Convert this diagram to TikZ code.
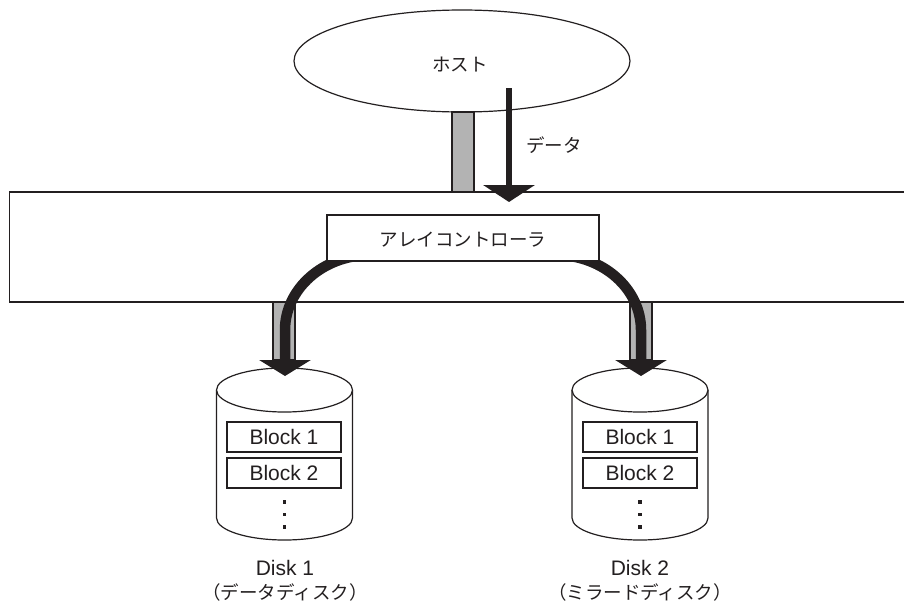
\documentclass[tikz,border=0pt]{standalone}
\usepackage{fontspec}
\setmainfont{Liberation Sans}
\newfontfamily\jp{Noto Sans CJK JP}
\usetikzlibrary{arrows.meta,shapes.geometric}
\definecolor{ink}{HTML}{231F20}
\definecolor{bargray}{HTML}{B3B3B3}
\tikzset{
  outline/.style={draw=ink, line width=1.2pt},
  bar/.style={draw=ink, line width=1.1pt, fill=bargray},
  blockbox/.style={draw=ink, line width=1.1pt, fill=white, minimum width=114pt, minimum height=30pt, inner sep=0pt, font=\fontsize{21}{21}\selectfont, text=ink},
  jptext/.style={font=\jp\fontsize{18.5}{18.5}\selectfont, text=ink, inner sep=0pt},
  latintext/.style={font=\fontsize{21}{21}\selectfont, text=ink, inner sep=0pt},
  bigarrow/.style={draw=ink, line width=6.5pt, -{Triangle[width=51pt,length=17pt]}},
  curvearrow/.style={draw=ink, line width=10.5pt, -{Triangle[width=51pt,length=16pt]}},
  dotmark/.style={fill=ink, minimum size=3.6pt, inner sep=0pt, draw=none, rectangle},
}
\begin{document}
\begin{tikzpicture}[x=1pt,y=-1pt]
\useasboundingbox[fill=white] (0,0) rectangle (904,606);

% host
\node[outline, ellipse, minimum width=336pt, minimum height=102pt, inner sep=0pt] (host) at (462,61) {};
\node[jptext] (hostlabel) at (460,65) {ホスト};

% gray bar from host to array
\draw[bar] (452,112) rectangle (474,192);

% big array rectangle (open at right)
\draw[outline] (910,192) -- (9.5,192) -- (9.5,302) -- (910,302);

% gray bars to disks
\draw[bar] (273,302) rectangle (295,360);
\draw[bar] (630,302) rectangle (652,360);

% disks
\foreach \cx/\nm in {284.5/d1, 640/d2}{
  \draw[outline, fill=white] (\cx-68,390) -- (\cx-68,518) arc[start angle=180, end angle=360, x radius=68pt, y radius=22pt] -- (\cx+68,390);
  \draw[outline, fill=white] (\cx,390) ellipse [x radius=68pt, y radius=22pt];
}
\node[blockbox] (d1b1) at (284,437) {Block 1};
\node[blockbox] (d1b2) at (284,473) {Block 2};
\node[blockbox] (d2b1) at (640,437) {Block 1};
\node[blockbox] (d2b2) at (640,473) {Block 2};
\foreach \cx/\nm in {284.5/a, 640/b}{
  \node[dotmark] (dot\nm1) at (\cx,502) {};
  \node[dotmark] (dot\nm2) at (\cx,514.5) {};
  \node[dotmark] (dot\nm3) at (\cx,527) {};
}
\node[latintext] (d1name) at (285,568) {Disk 1};
\node[jptext] (d1role) at (285,592) {（データディスク）};
\node[latintext] (d2name) at (640,568) {Disk 2};
\node[jptext] (d2role) at (640,592) {（ミラードディスク）};

% data arrow from host
\coordinate (hs) at (509,88);
\coordinate (he) at (509,202);
\draw[bigarrow] (hs) -- (he);
\node[jptext] (datalabel) at (554,145) {データ};

% curved arrows from controller to disks
\coordinate (ls) at (370,255);
\coordinate (lm) at (285,330);
\coordinate (le) at (285,376);
\coordinate (rs) at (556,255);
\coordinate (rm) at (641,330);
\coordinate (re) at (641,376);
\draw[curvearrow] (ls) .. controls (323,255) and (285,289) .. (lm) -- (le);
\draw[curvearrow] (rs) .. controls (603,255) and (641,289) .. (rm) -- (re);

% controller
\node[outline, fill=white, draw=ink, line width=1.1pt, minimum width=272pt, minimum height=46pt, inner sep=0pt] (ctrl) at (463,238) {};
\node[jptext] (ctrllabel) at (463,240) {アレイコントローラ};
\end{tikzpicture}
\end{document}
